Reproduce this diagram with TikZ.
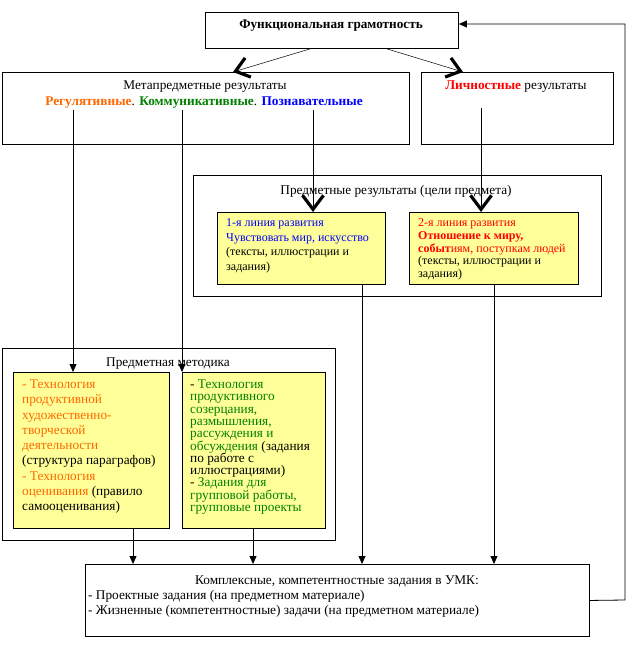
\documentclass[tikz,border=0pt]{standalone}
\usepackage{fontspec}
\setmainfont{Liberation Serif}
\usetikzlibrary{arrows.meta,calc}
\definecolor{yel}{RGB}{255,255,153}
\definecolor{orng}{RGB}{255,102,0}
\definecolor{grn}{RGB}{0,128,0}
\definecolor{blu}{RGB}{0,0,255}
\definecolor{rd}{RGB}{255,0,0}
\begin{document}
\begin{tikzpicture}[x=1pt,y=-1pt,
  box/.style={draw,line width=0.9pt,anchor=north west,inner sep=0pt},
  ybox/.style={box,fill=yel},
  txt/.style={inner sep=0pt,anchor=base west,font=\fontsize{13.3}{15}\selectfont},
  stxt/.style={txt,font=\fontsize{12}{14}\selectfont},
  ctxt/.style={txt,anchor=base},
  conn/.style={line width=0.8pt},
  tri/.style={conn,-{Triangle[length=8pt,width=7pt]}},
  chev/.style={conn,-{Straight Barb[length=14pt,width=21pt,line width=3.2pt]}},
  bigarr/.style={line width=0.5pt,-{Straight Barb[length=13pt,width=20pt,line width=3.2pt]}}]
\useasboundingbox[fill=white] (0,0) rectangle (638,661);
% boxes
\node[box,minimum width=253pt,minimum height=36pt] (top) at (205,12) {};
\node[box,minimum width=407pt,minimum height=72pt] (meta) at (2,72) {};
\node[box,minimum width=192pt,minimum height=72pt] (lich) at (421,72) {};
\node[box,minimum width=408pt,minimum height=121pt] (pred) at (193,175) {};
\node[ybox,minimum width=168pt,minimum height=72pt] (l1) at (217,212) {};
\node[ybox,minimum width=169pt,minimum height=72pt] (l2) at (409,212) {};
\node[box,minimum width=333pt,minimum height=192pt] (meth) at (2,348) {};
\node[ybox,minimum width=156pt,minimum height=156pt] (ly) at (13,372) {};
\node[ybox,minimum width=143pt,minimum height=156pt] (ry) at (182,372) {};
\node[box,minimum width=504pt,minimum height=72pt] (kompl) at (85,564) {};
% texts
\node[ctxt,font=\fontsize{13.2}{15}\selectfont\bfseries] (ttop) at (331,29) {Функциональная грамотность};
\node[ctxt] (tmeta1) at (205,89) {Метапредметные результаты};
\node[ctxt] (tmeta2) at (204,105) {\textcolor{orng}{\textbf{Регулятивные}}. \textcolor{grn}{\textbf{Коммуникативные}}. \textcolor{blu}{\textbf{Познавательные}}};
\node[ctxt] (tlich) at (516,89) {\textcolor{rd}{\textbf{Личностные}} результаты};
\node[ctxt] (tpred) at (396,194) {Предметные результаты (цели предмета)};
\node[ctxt] (tmeth) at (168,366) {Предметная методика};
% line 1
\node[stxt,blu] (a1) at (226,226.5) {1-я линия развития};
\node[stxt,blu] (a2) at (226,241.2) {Чувствовать мир, искусство};
\node[stxt] (a3) at (226,255.9) {(тексты, иллюстрации и};
\node[stxt] (a4) at (226,270.6) {задания)};
% line 2
\node[stxt,rd] (b1) at (418,226.5) {2-я линия развития};
\node[stxt,rd] (b2) at (418,239.3) {\textbf{Отношение к миру,}};
\node[stxt,rd] (b3) at (418,252.1) {\textbf{событ}иям, поступкам людей};
\node[stxt] (b4) at (418,264.9) {(тексты, иллюстрации и};
\node[stxt] (b5) at (418,277.7) {задания)};
% left yellow
\node[txt,orng] (c1) at (22,388.5) {- Технология};
\node[txt,orng] (c2) at (22,403.75) {продуктивной};
\node[txt,orng] (c3) at (22,419) {художественно-};
\node[txt,orng] (c4) at (22,434.25) {творческой};
\node[txt,orng] (c5) at (22,449.5) {деятельности};
\node[txt] (c6) at (22,464.75) {(структура параграфов)};
\node[txt,orng] (c7) at (22,480) {- Технология};
\node[txt] (c8) at (22,495.25) {\textcolor{orng}{оценивания} (правило};
\node[txt] (c9) at (22,510.5) {самооценивания)};
% right yellow
\node[txt] (d1) at (190,388.5) {- \textcolor{grn}{Технология}};
\node[txt,grn] (d2) at (190,400.8) {продуктивного};
\node[txt,grn] (d3) at (190,413.1) {созерцания,};
\node[txt,grn] (d4) at (190,425.4) {размышления,};
\node[txt,grn] (d5) at (190,437.7) {рассуждения и};
\node[txt] (d6) at (190,450) {\textcolor{grn}{обсуждения} (задания};
\node[txt] (d7) at (190,462.3) {по работе с};
\node[txt] (d8) at (190,474.6) {иллюстрациями)};
\node[txt] (d9) at (190,486.9) {- \textcolor{grn}{Задания для}};
\node[txt,grn] (d10) at (190,499.2) {групповой работы,};
\node[txt,grn] (d11) at (190,511.5) {групповые проекты};
% kompl
\node[ctxt] (k1) at (337,584) {Комплексные, компетентностные задания в УМК:};
\node[txt] (k2) at (88,599) {- Проектные задания (на предметном материале)};
\node[txt] (k3) at (88,614) {- Жизненные (компетентностные) задачи (на предметном материале)};
% connectors
\draw[bigarr] ($(top.south west)+(105,0)$) -- ($(meta.north west)+(231,0)$);
\draw[bigarr] ($(top.south west)+(182,0)$) -- ($(lich.north west)+(42,0)$);
\coordinate (m1) at (73,110);
\coordinate (m2) at (182,110);
\coordinate (m3) at (313,110);
\coordinate (p1) at (481,108);
\draw[tri] (m1) -- (m1 |- ly.north);
\draw[tri] (m2) -- (m2 |- ry.north);
\draw[chev] (m3) -- (m3 |- l1.north);
\draw[chev] (p1) -- (p1 |- l2.north);
\coordinate (e1) at ($(l1.south west)+(145,0)$);
\coordinate (e2) at ($(l2.south west)+(85,0)$);
\coordinate (e3) at ($(ly.south west)+(120,0)$);
\coordinate (e4) at ($(ry.south west)+(71,0)$);
\draw[tri] (e1) -- (e1 |- kompl.north);
\draw[tri] (e2) -- (e2 |- kompl.north);
\draw[tri] (e3) -- (e3 |- kompl.north);
\draw[tri] (e4) -- (e4 |- kompl.north);
\coordinate (fb) at (625,600);
\draw[tri] (kompl.east) -- (fb) |- ($(top.north east)+(0,12)$);
\end{tikzpicture}
\end{document}
